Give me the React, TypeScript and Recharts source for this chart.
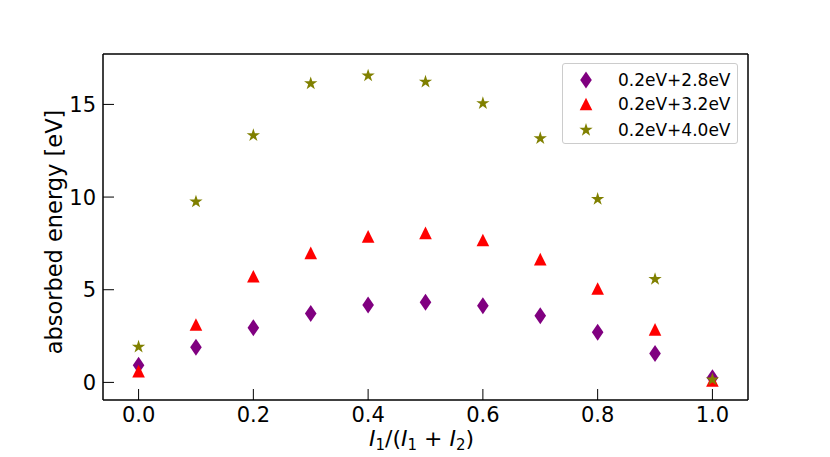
import { ScatterChart, Scatter, XAxis, YAxis } from 'recharts';

const xValues = [0, 0.1, 0.2, 0.3, 0.4, 0.5, 0.6, 0.7, 0.8, 0.9, 1.0];
const series28 = [0.93, 1.89, 2.95, 3.72, 4.17, 4.32, 4.13, 3.59, 2.71, 1.56, 0.25];
const series32 = [0.61, 3.12, 5.73, 6.99, 7.88, 8.07, 7.68, 6.65, 5.07, 2.86, 0.1];
const series40 = [1.92, 9.75, 13.33, 16.13, 16.55, 16.22, 15.06, 13.17, 9.89, 5.57, 0.15];
const xTicks = [0, 0.2, 0.4, 0.6, 0.8, 1.0];
const yTicks = [0, 5, 10, 15];
const seriesNames = ['0.2eV+2.8eV', '0.2eV+3.2eV', '0.2eV+4.0eV'];

const FONT = '"DejaVu Sans", sans-serif';
const PURPLE = '#800080';
const RED = '#ff0000';
const OLIVE = '#808000';

const toPoints = (ys: number[]) => xValues.map((x, i) => ({ x, y: ys[i] }));

function diamondPath(cx: number, cy: number) {
  const h = 8.5;
  const w = 5.8;
  return `M${cx},${cy - h}L${cx + w},${cy}L${cx},${cy + h}L${cx - w},${cy}Z`;
}

function trianglePath(cx: number, cy: number) {
  const r = 6.3;
  return `M${cx},${cy - r}L${cx + r},${cy + r}L${cx - r},${cy + r}Z`;
}

function starPath(cx: number, cy: number) {
  const outer = 7;
  const inner = outer * 0.382;
  let d = '';
  for (let i = 0; i < 10; i++) {
    const r = i % 2 === 0 ? outer : inner;
    const a = (-90 + i * 36) * (Math.PI / 180);
    d += `${i === 0 ? 'M' : 'L'}${cx + r * Math.cos(a)},${cy + r * Math.sin(a)}`;
  }
  return d + 'Z';
}

const Diamond = (p: any) => <path d={diamondPath(p.cx, p.cy)} fill={PURPLE} />;
const Triangle = (p: any) => <path d={trianglePath(p.cx, p.cy)} fill={RED} />;
const Star = (p: any) => <path d={starPath(p.cx, p.cy)} fill={OLIVE} />;

const XTick = (p: any) => {
  const { x, y, payload } = p;
  return (
    <g>
      <line x1={x} y1={y} x2={x} y2={y - 11} stroke="#000" strokeWidth={1} />
      <text x={x} y={y + 22} textAnchor="middle" fontSize={21} fontFamily={FONT} fill="#000">
        {Number(payload.value).toFixed(1)}
      </text>
    </g>
  );
};

const YTick = (p: any) => {
  const { x, y, payload } = p;
  return (
    <g>
      <line x1={x} y1={y} x2={x + 11} y2={y} stroke="#000" strokeWidth={1} />
      <text x={x - 7} y={y + 7.5} textAnchor="end" fontSize={21} fontFamily={FONT} fill="#000">
        {payload.value}
      </text>
    </g>
  );
};

const XLabel = (p: any) => {
  const vb = p.viewBox;
  const cx = vb.x + vb.width / 2 - 4;
  return (
    <text x={cx} y={vb.y + 46} textAnchor="middle" fontSize={22} fontFamily={FONT} fill="#000">
      <tspan fontStyle="italic">I</tspan>
      <tspan fontSize={15} dy={4}>1</tspan>
      <tspan dy={-4}>/(</tspan>
      <tspan fontStyle="italic">I</tspan>
      <tspan fontSize={15} dy={4}>1</tspan>
      <tspan dy={-4}> + </tspan>
      <tspan fontStyle="italic">I</tspan>
      <tspan fontSize={15} dy={4}>2</tspan>
      <tspan dy={-4}>)</tspan>
    </text>
  );
};

const YLabel = () => (
  <text
    x={62}
    y={232}
    transform="rotate(-90 62 232)"
    textAnchor="middle"
    fontSize={22.5}
    fontFamily={FONT}
    fill="#000"
  >
    absorbed energy [eV]
  </text>
);

const legendIcons = [Diamond, Triangle, Star];
const legendRows = [16.3, 40.3, 65.7];

function LegendBox() {
  return (
    <div
      style={{
        position: 'absolute',
        left: 562,
        top: 63,
        width: 174,
        height: 79,
        border: '1px solid #cccccc',
        borderRadius: 3,
        background: 'rgba(255,255,255,0.8)',
        fontFamily: FONT,
        fontSize: 17,
      }}
    >
      {seriesNames.map((name, i) => {
        const Icon = legendIcons[i];
        return (
          <div key={name} style={{ position: 'absolute', left: 0, top: legendRows[i] - 12, height: 24, width: 174 }}>
            <svg width={40} height={24} style={{ position: 'absolute', left: 3, top: 0 }}>
              <Icon cx={20} cy={12} />
            </svg>
            <span style={{ position: 'absolute', left: 55, top: 1, lineHeight: '22px', whiteSpace: 'nowrap' }}>{name}</span>
          </div>
        );
      })}
    </div>
  );
}

export default function App() {
  return (
    <div style={{ position: 'absolute', left: 0, top: 0, width: 830, height: 457, background: '#fff' }}>
      <ScatterChart width={830} height={457} margin={{ top: 53, right: 81, bottom: 0, left: 0 }}>
        <XAxis
          dataKey="x"
          type="number"
          domain={[-0.062, 1.062]}
          ticks={xTicks}
          allowDataOverflow
          height={57}
          tickSize={0}
          tickMargin={0}
          tickLine={false}
          axisLine={{ stroke: '#000', strokeWidth: 1.5 }}
          tick={XTick}
          label={{ content: XLabel }}
        />
        <XAxis
          xAxisId="top"
          orientation="top"
          type="number"
          domain={[-0.062, 1.062]}
          height={1}
          tick={false}
          tickLine={false}
          axisLine={{ stroke: '#000', strokeWidth: 1.5 }}
        />
        <YAxis
          dataKey="y"
          type="number"
          domain={[-0.95, 17.72]}
          ticks={yTicks}
          allowDataOverflow
          width={103}
          tickSize={0}
          tickMargin={0}
          tickLine={false}
          axisLine={{ stroke: '#000', strokeWidth: 1.5 }}
          tick={YTick}
        />
        <YAxis
          yAxisId="right"
          orientation="right"
          type="number"
          domain={[-0.95, 17.72]}
          width={1}
          tick={false}
          tickLine={false}
          axisLine={{ stroke: '#000', strokeWidth: 1.5 }}
        />
        <Scatter name={seriesNames[0]} data={toPoints(series28)} shape={Diamond} isAnimationActive={false} />
        <Scatter name={seriesNames[1]} data={toPoints(series32)} shape={Triangle} isAnimationActive={false} />
        <Scatter name={seriesNames[2]} data={toPoints(series40)} shape={Star} isAnimationActive={false} />
      </ScatterChart>
      <svg width={830} height={457} style={{ position: 'absolute', left: 0, top: 0, pointerEvents: 'none' }}>
        <YLabel />
      </svg>
      <LegendBox />
    </div>
  );
}
